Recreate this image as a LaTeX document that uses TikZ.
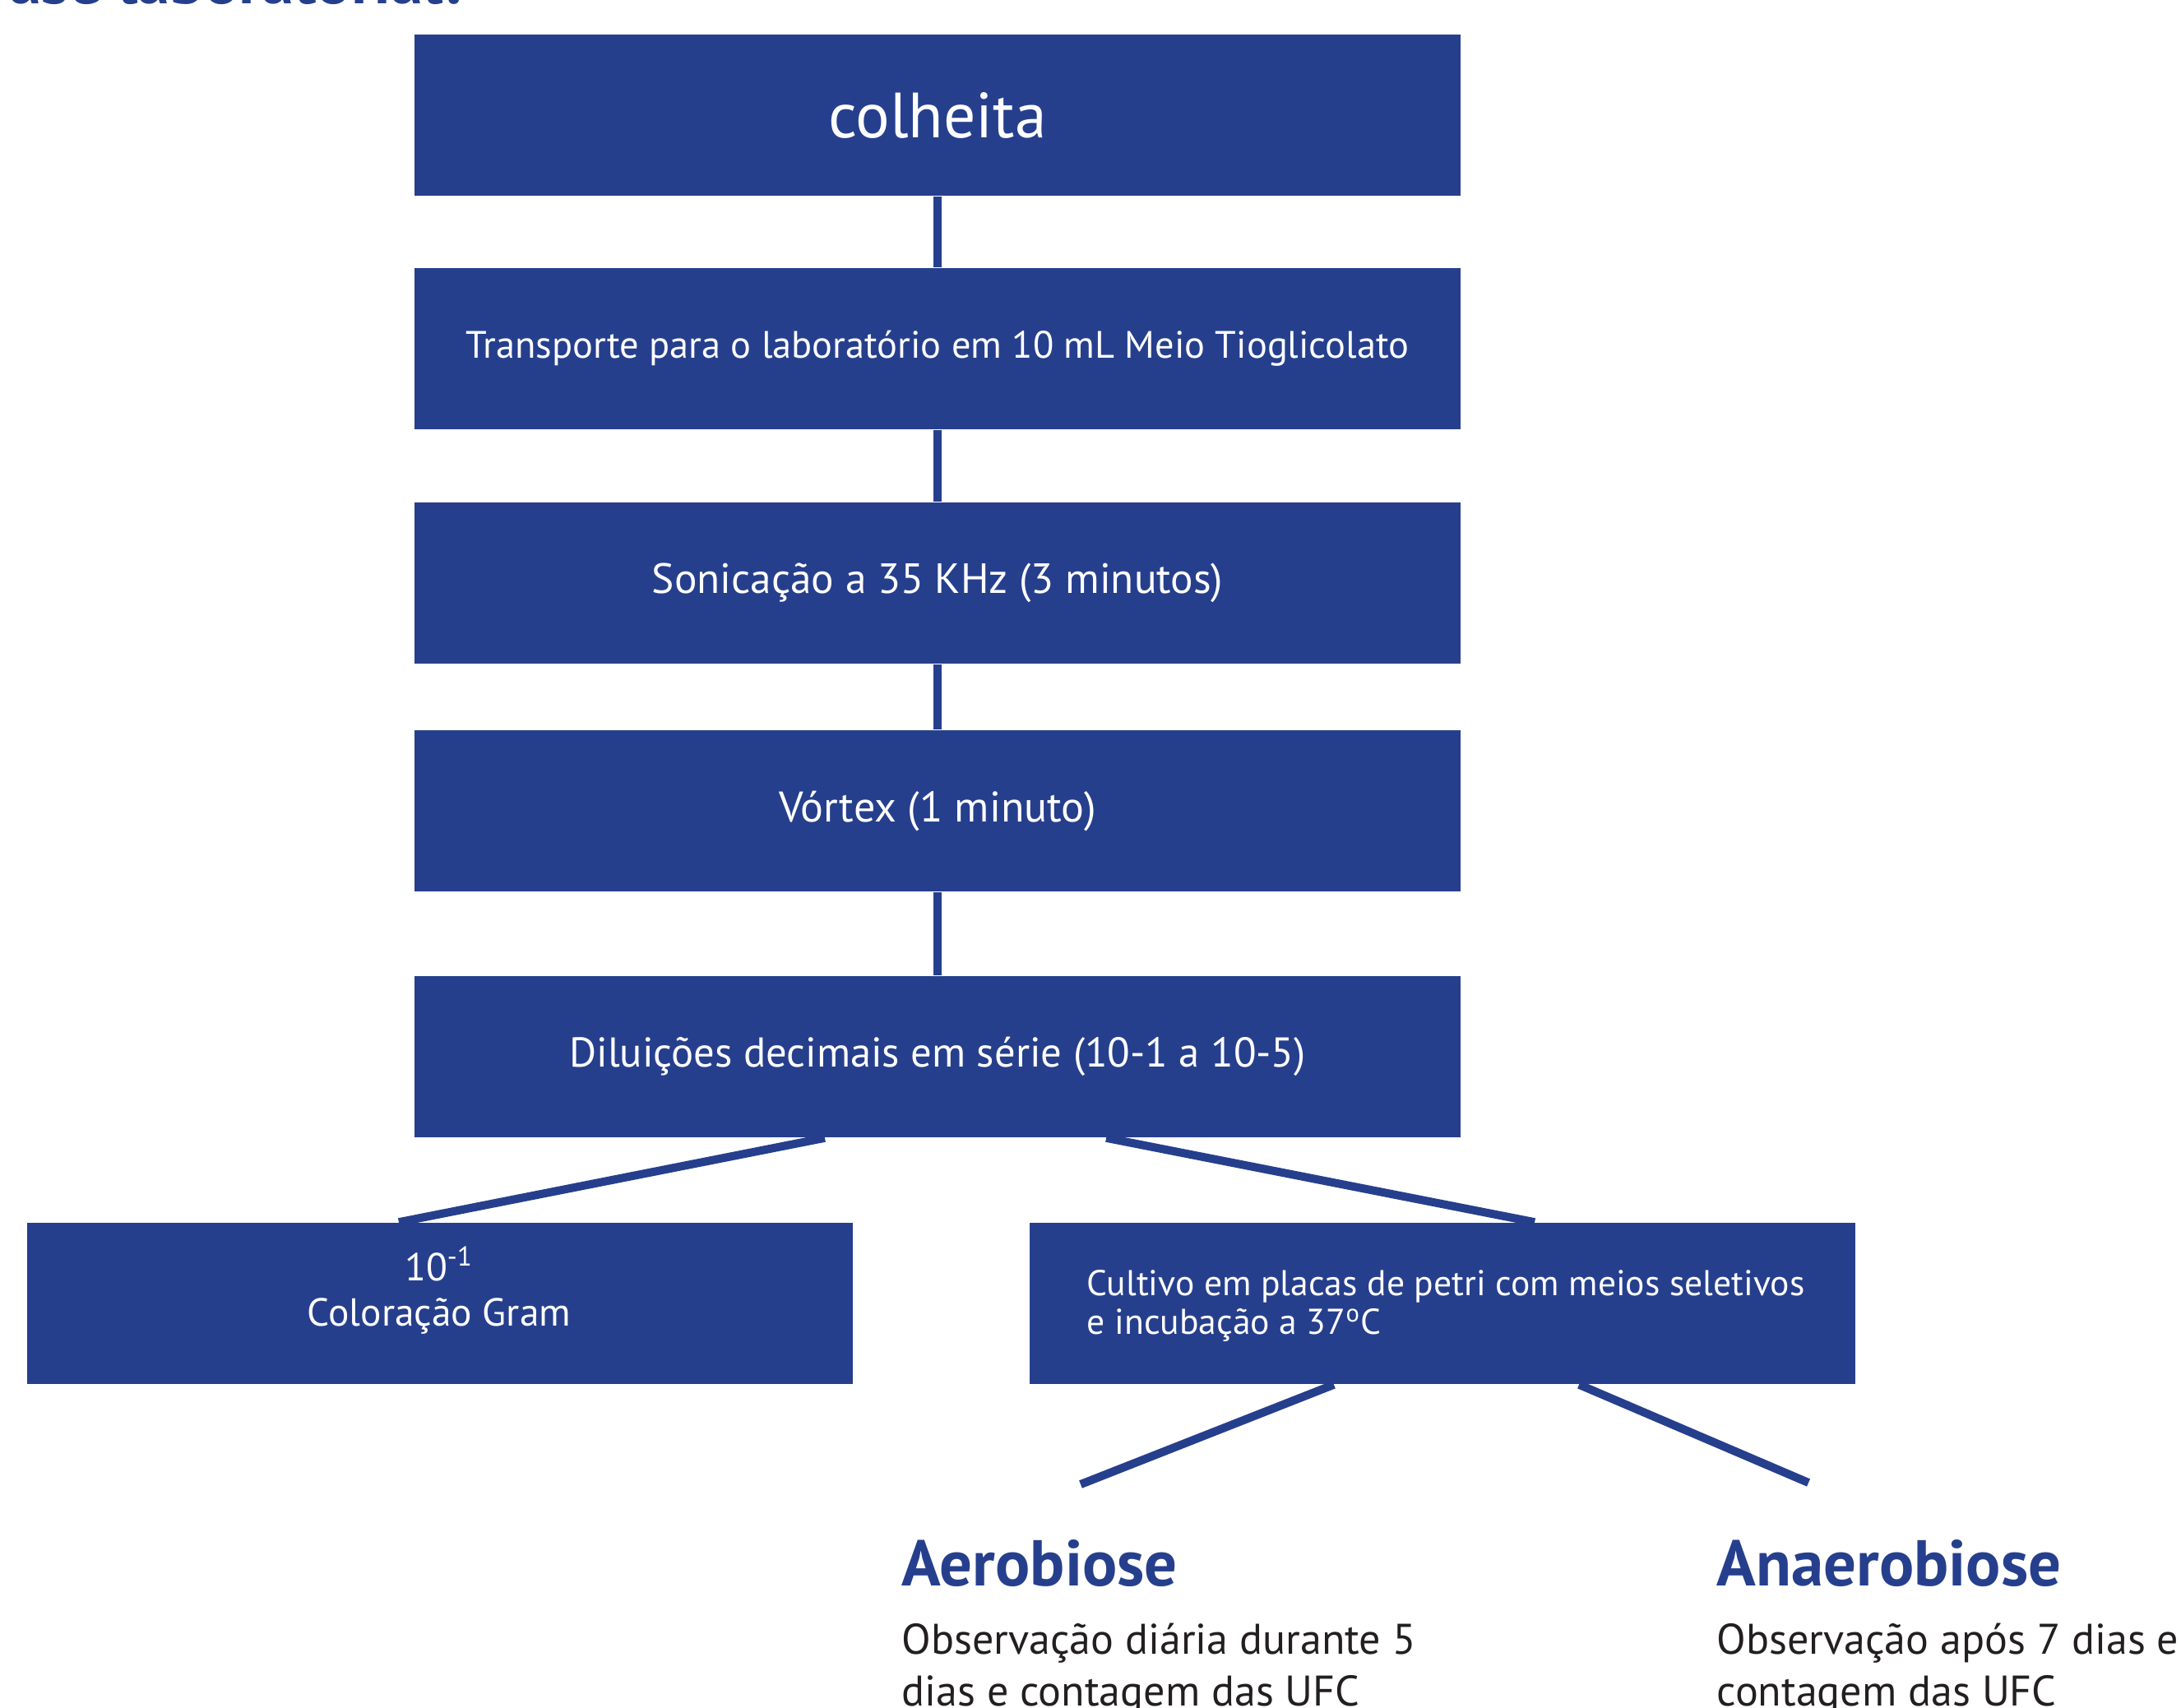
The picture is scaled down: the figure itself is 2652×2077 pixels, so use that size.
\documentclass[tikz,border=0pt]{standalone}
\usepackage{fontspec}
\setmainfont{PT Sans}
\definecolor{fblue}{RGB}{38,63,141}
\definecolor{ftext}{RGB}{35,31,32}
\begin{document}
\begin{tikzpicture}[x=0.01cm,y=-0.01cm,
  box/.style={fill=fblue,draw=none,minimum width=12.72cm,minimum height=1.96cm,inner sep=0pt,text=white,font=\fontsize{14.5}{17}\selectfont},
  sidebox/.style={box,minimum width=10.03cm},
  boxtext/.style={text=white,inner sep=0pt},
  conn/.style={draw=fblue,line width=2.85pt},
  head/.style={anchor=base west,text=fblue,font=\bfseries\fontsize{22.4}{26}\selectfont,inner sep=0pt},
  obs/.style={anchor=base west,text=ftext,font=\fontsize{14.8}{18}\selectfont,inner sep=0pt}]
\useasboundingbox (0,0) rectangle (2652,2077);
\begin{scope}
\clip (0,0) rectangle (2652,2077);
\node[anchor=base east,text=fblue,font=\bfseries\fontsize{22.4}{26}\selectfont,inner sep=0pt] (title) at (560,5) {Fase laboratorial:};
\end{scope}
\node[box,font=\fontsize{22.1}{26}\selectfont] (colheita) at (1140,140) {colheita};
\node[box,font=\fontsize{13.2}{16}\selectfont] (transp) at (1140,424) {Transporte para o laboratório em 10 mL Meio Tioglicolato};
\node[box,font=\fontsize{14.6}{17}\selectfont] (sonic) at (1140,709) {Sonicação a 35 KHz (3 minutos)};
\node[box,font=\fontsize{14.8}{17}\selectfont] (vortex) at (1140,986) {Vórtex (1 minuto)};
\node[box,font=\fontsize{14.4}{17}\selectfont] (dilu) at (1140,1285) {Diluições decimais em série (10-1 a 10-5)};
\node[sidebox] (gram) at (535,1585) {};
\node[boxtext,font=\fontsize{13.5}{16}\selectfont] (gramt1) at (534,1537) {10\textsuperscript{-1}};
\node[boxtext,font=\fontsize{13.5}{16}\selectfont] (gramt2) at (534,1600) {Coloração Gram};
\node[sidebox,minimum width=10.04cm] (cult) at (1754,1585) {};
\node[boxtext,anchor=west,font=\fontsize{12.4}{13.4}\selectfont,align=left] (cultt) at (1321,1588) {Cultivo em placas de petri com meios seletivos\\e incubação a 37\textsuperscript{o}C};
\draw[conn] (colheita.south) -- (transp.north);
\draw[conn] (transp.south) -- (sonic.north);
\draw[conn] (sonic.south) -- (vortex.north);
\draw[conn] (vortex.south) -- (dilu.north);
\draw[conn] ([xshift=-1.37cm]dilu.south) -- ([xshift=-0.50cm]gram.north);
\draw[conn] ([xshift=2.05cm]dilu.south) -- ([xshift=1.12cm]cult.north);
\coordinate (aeroend) at (1314,1805);
\coordinate (anaeroend) at (2199,1803);
\draw[conn] ([xshift=-1.32cm]cult.south) -- (aeroend);
\draw[conn] ([xshift=1.66cm]cult.south) -- (anaeroend);
\node[head] (aero) at (1096,1928) {Aerobiose};
\node[obs] (aero1) at (1096,2011) {Observação diária durante 5};
\node[obs] (aero2) at (1096,2074) {dias e contagem das UFC};
\node[head] (anaero) at (2087,1928) {Anaerobiose};
\node[obs] (anaero1) at (2087,2011) {Observação após 7 dias e};
\node[obs] (anaero2) at (2087,2074) {contagem das UFC};
\end{tikzpicture}
\end{document}
